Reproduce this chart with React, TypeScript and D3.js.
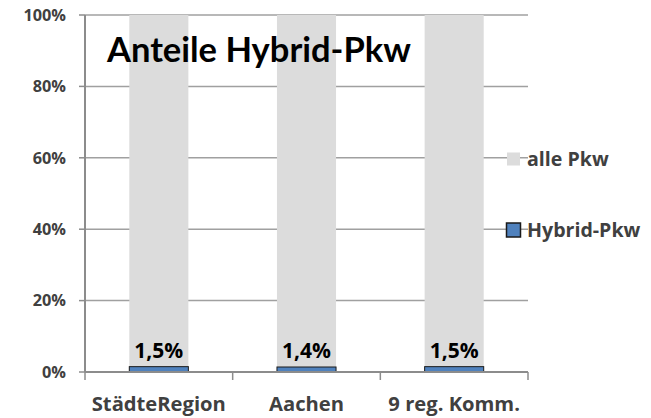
import { useMemo } from 'react'
import * as d3 from 'd3'

const categories = ['StädteRegion', 'Aachen', '9 reg. Komm.']
const hybridShare = [1.5, 1.4, 1.5]
const allePkwShare = [98.5, 98.6, 98.5]
const hybridLabels = ['1,5%', '1,4%', '1,5%']
const yTicks = [0, 20, 40, 60, 80, 100]

const W = 651
const H = 418
const FONT = '"Open Sans", "Noto Sans", sans-serif'
const TITLE_FONT = 'Lato, "Open Sans", sans-serif'
const AXIS_TEXT = '#404040'

export default function App() {
  const margin = { l: 85, r: 123, t: 15, b: 46 }

  const x = useMemo(
    () => d3.scaleBand().domain(categories).range([margin.l, W - margin.r]).paddingInner(0.6).paddingOuter(0.3),
    []
  )
  const xOuter = useMemo(() => d3.scaleBand().domain(categories).range([margin.l, W - margin.r]), [])
  const y = useMemo(() => d3.scaleLinear().domain([0, 100]).range([H - margin.b, margin.t]), [])

  const stacked = categories.map((c, i) => ({
    cat: c,
    hybrid: [0, hybridShare[i]],
    alle: [hybridShare[i], hybridShare[i] + allePkwShare[i]],
    label: hybridLabels[i],
  }))

  const x0 = margin.l
  const x1 = W - margin.r
  const yBase = y(0)

  return (
    <svg width={W} height={H} style={{ position: 'absolute', left: 0, top: 0, background: '#fff' }}>
      {/* gridlines */}
      {yTicks.map(t => (
        <g key={t}>
          {t > 0 && <line x1={x0} x2={x1} y1={y(t)} y2={y(t)} stroke="#A0A0A0" strokeWidth={1.5} />}
          <line x1={x0 - 6} x2={x0} y1={y(t)} y2={y(t)} stroke="#8C8C8C" strokeWidth={1.5} />
          <text
            x={66}
            y={y(t)}
            dy="0.36em"
            textAnchor="end"
            fontFamily={FONT}
            fontWeight={700}
            fontSize={16.3}
            fill={AXIS_TEXT}
          >
            {t}%
          </text>
        </g>
      ))}

      {/* bars */}
      {stacked.map(d => (
        <g key={d.cat}>
          <rect
            x={x(d.cat)!}
            y={y(d.alle[1])}
            width={x.bandwidth()}
            height={y(d.alle[0]) - y(d.alle[1])}
            fill="#DCDCDC"
          />
          <rect
            x={x(d.cat)!}
            y={y(d.hybrid[1])}
            width={x.bandwidth()}
            height={y(d.hybrid[0]) - y(d.hybrid[1])}
            fill="#4F81BD"
            stroke="#1a1a1a"
            strokeWidth={1}
          />
          <text
            x={x(d.cat)! + x.bandwidth() / 2}
            y={y(d.hybrid[1]) - 9}
            textAnchor="middle"
            fontFamily={FONT}
            fontWeight={700}
            fontSize={21}
            fill="#000"
          >
            {d.label}
          </text>
        </g>
      ))}

      {/* axes */}
      <line x1={x0} x2={x0} y1={y(100)} y2={yBase} stroke="#8C8C8C" strokeWidth={2} />
      <line x1={x0} x2={x1} y1={yBase} y2={yBase} stroke="#8C8C8C" strokeWidth={2} />
      {[...categories.map(c => xOuter(c)!), x1].map((tx, i) => (
        <line key={i} x1={tx} x2={tx} y1={yBase} y2={yBase + 8} stroke="#8C8C8C" strokeWidth={1.5} />
      ))}
      {categories.map(c => (
        <text
          key={c}
          x={xOuter(c)! + xOuter.bandwidth() / 2}
          y={411}
          textAnchor="middle"
          fontFamily={FONT}
          fontWeight={700}
          fontSize={20.2}
          fill={AXIS_TEXT}
        >
          {c}
        </text>
      ))}

      {/* title */}
      <text x={107} y={61.5} fontFamily={TITLE_FONT} fontWeight={700} fontSize={34.5} fill="#000">
        Anteile Hybrid-Pkw
      </text>

      {/* legend */}
      <rect x={507} y={152.5} width={13} height={13} fill="#DCDCDC" />
      <text x={527} y={166} fontFamily={FONT} fontWeight={700} fontSize={19.6} fill={AXIS_TEXT}>
        alle Pkw
      </text>
      <rect x={506.5} y={223} width={14} height={14} fill="#4F81BD" stroke="#1a1a1a" strokeWidth={1.5} />
      <text x={527} y={237} fontFamily={FONT} fontWeight={700} fontSize={19.6} fill={AXIS_TEXT}>
        Hybrid-Pkw
      </text>
    </svg>
  )
}
